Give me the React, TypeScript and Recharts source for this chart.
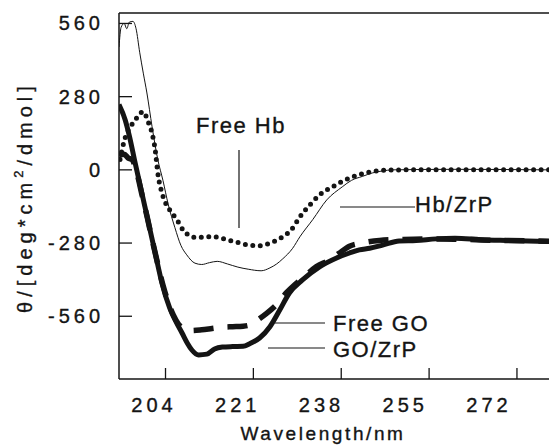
import React from 'react';
import { LineChart, Line, XAxis, YAxis, ReferenceLine } from 'recharts';

const INK = '#141414';
const FONT = '"Liberation Sans", Arial, Helvetica, sans-serif';

const X_TICKS = [204, 221, 238, 255, 272];
const Y_TICKS = [560, 280, 0, -280, -560];

// Hb/ZrP (thin solid)
const hbZrpWl = [195, 195.4, 196, 196.5, 197, 197.7, 198.3, 199, 199.7, 200.4, 201.4, 202.5, 203.5, 204.5, 205.8, 207, 208.1, 209.7, 211, 212.5, 214, 216, 218, 220, 222.5, 224.2, 225.5, 226.7, 228.6, 230, 232.5, 235.2, 238.2, 240, 242.1, 244, 246, 248, 260, 278.2];
const hbZrpTheta = [470, 545, 560, 540, 565, 568, 540, 450, 370, 294, 165, 40, -40, -130, -220, -290, -325, -357, -362, -355, -350, -360, -372, -380, -386, -375, -360, -340, -300, -256, -190, -115, -65, -40, -25, -12, -4, 0, 2, 0];

// Free Hb (dotted)
const freeHbWl = [195.2, 196, 197, 198, 199, 199.8, 200.5, 201.4, 202, 202.5, 203.5, 204.8, 206.2, 207.4, 208.5, 209.7, 211.5, 213, 214.5, 216, 218, 220, 222.2, 224.2, 226.7, 228.4, 230, 232.3, 233.8, 236.3, 239.6, 242.9, 246, 250, 260, 278.2];
const freeHbTheta = [40, 110, 160, 185, 215, 222, 190, 140, 77, -11, -100, -153, -190, -230, -250, -258, -257, -255, -260, -268, -278, -287, -290, -280, -256, -228, -180, -126, -96, -65, -31, -11, -2, 0, 0, 0];

// Free GO (dashed)
const freeGoWl = [195, 196, 196.8, 197.5, 198.5, 199.5, 200.5, 201.5, 202.5, 203.5, 204.5, 205.5, 206.5, 207.5, 209, 211, 213, 215, 217, 219, 220.5, 222, 223.5, 225.5, 227.4, 229, 230.5, 233.2, 235.7, 237.5, 239.6, 242, 245.4, 250, 255, 260, 265, 270, 278.2];
const freeGoTheta = [55, 60, 45, 40, -15, -100, -185, -275, -360, -440, -505, -555, -590, -607, -615, -612, -607, -602, -600, -598, -592, -572, -550, -515, -470, -440, -415, -370, -345, -320, -292, -280, -270, -266, -264, -265, -268, -270, -273];

// GO/ZrP (thick solid)
const goZrpWl = [195, 196.2, 197, 198, 199, 200, 201, 202, 203.3, 204.8, 206, 207.2, 208.2, 209.1, 210.4, 212, 213.5, 215, 217, 219, 220.3, 222.2, 224.2, 226.1, 228, 230.5, 233.8, 237.1, 239.6, 241.5, 243.5, 246, 249.2, 252.5, 256.4, 260, 265, 270, 278.2];
const goZrpTheta = [250, 191, 130, 38, -51, -140, -229, -318, -432, -528, -580, -624, -662, -689, -708, -705, -685, -678, -676, -675, -665, -643, -600, -536, -470, -421, -371, -337, -318, -306, -300, -288, -272, -270, -264, -262, -267, -270, -274];

const zip = (wl: number[], theta: number[]) => wl.map((w, i) => ({ wl: w, theta: theta[i] }));

const txt = { fontFamily: FONT, fill: INK, stroke: INK, strokeWidth: 0.35 };

const XTick = (props: any) => {
  const { x, y, payload, index } = props;
  const shift = -13.5 - index * 4.1 + 2;
  return (
    <g>
      <line x1={x} y1={y} x2={x} y2={y - 11} stroke={INK} strokeWidth={1.3} />
      <text x={x + shift} y={y + 33} textAnchor="middle" fontSize={20} letterSpacing={4} {...txt}>
        {payload.value}
      </text>
    </g>
  );
};

const YTick = (props: any) => {
  const { x, y, payload } = props;
  return (
    <g>
      <line x1={x} y1={y} x2={x + 13} y2={y} stroke={INK} strokeWidth={1.3} />
      <text x={x - 19 + 4} y={y + 7} textAnchor="end" fontSize={20} letterSpacing={4} {...txt}>
        {payload.value}
      </text>
    </g>
  );
};

const noteStyle = { fontSize: 22, letterSpacing: 1.5, ...txt };

export default function App() {
  return (
    <div style={{ position: 'absolute', left: 0, top: 0, width: 549, height: 448, background: '#fff' }}>
      <LineChart width={549} height={448} margin={{ top: 13, right: 0, left: 59, bottom: 9 }}>
        <XAxis dataKey="wl" type="number" domain={[195, 278.2]} ticks={X_TICKS} interval={0}
          allowDataOverflow height={60} tickSize={0} tickMargin={0} tickLine={false}
          axisLine={{ stroke: INK, strokeWidth: 1.5 }} tick={<XTick />} />
        <YAxis type="number" domain={[-800, 600]} ticks={Y_TICKS} interval={0}
          allowDataOverflow width={60} tickSize={0} tickMargin={0} tickLine={false}
          axisLine={{ stroke: INK, strokeWidth: 1.5 }} tick={<YTick />} />
        <ReferenceLine y={600} stroke={INK} strokeWidth={1.5} />
        <Line data={zip(hbZrpWl, hbZrpTheta)} dataKey="theta" type="monotone" stroke={INK}
          strokeWidth={1} dot={false} isAnimationActive={false} />
        <Line data={zip(freeHbWl, freeHbTheta)} dataKey="theta" type="monotone" stroke={INK}
          strokeWidth={5} strokeDasharray="0 7.5" strokeLinecap="round" dot={false}
          isAnimationActive={false} />
        <Line data={zip(goZrpWl, goZrpTheta)} dataKey="theta" type="monotone" stroke={INK}
          strokeWidth={5} dot={false} isAnimationActive={false} />
        <Line data={zip(freeGoWl, freeGoTheta)} dataKey="theta" type="monotone" stroke={INK}
          strokeWidth={5.5} strokeDasharray="20 14" dot={false} isAnimationActive={false} />
      </LineChart>

      <svg width={549} height={448} style={{ position: 'absolute', left: 0, top: 0, pointerEvents: 'none' }}>
        {/* annotations */}
        <text x={196} y={133} {...noteStyle}>Free Hb</text>
        <line x1={239} y1={150} x2={239} y2={228} stroke={INK} strokeWidth={1.2} />

        <text x={415} y={212} {...noteStyle}>Hb/ZrP</text>
        <line x1={340} y1={207} x2={415} y2={207} stroke={INK} strokeWidth={1.2} />

        <text x={333} y={331} {...noteStyle}>Free GO</text>
        <line x1={275} y1={323} x2={325} y2={323} stroke={INK} strokeWidth={1.2} />

        <text x={333} y={357} {...noteStyle}>GO/ZrP</text>
        <line x1={268} y1={348} x2={325} y2={348} stroke={INK} strokeWidth={1.2} />

        {/* axis titles */}
        <text x={323} y={440} textAnchor="middle" fontSize={19} letterSpacing={2.6} {...txt}>
          Wavelength/nm
        </text>
        <text transform="translate(32,197) rotate(-90)" textAnchor="middle" fontSize={20}
          letterSpacing={5} {...txt}>
          θ/[deg*cm<tspan fontSize={13} dy={-9}>2</tspan><tspan dy={9}>/dmol]</tspan>
        </text>
      </svg>
    </div>
  );
}
